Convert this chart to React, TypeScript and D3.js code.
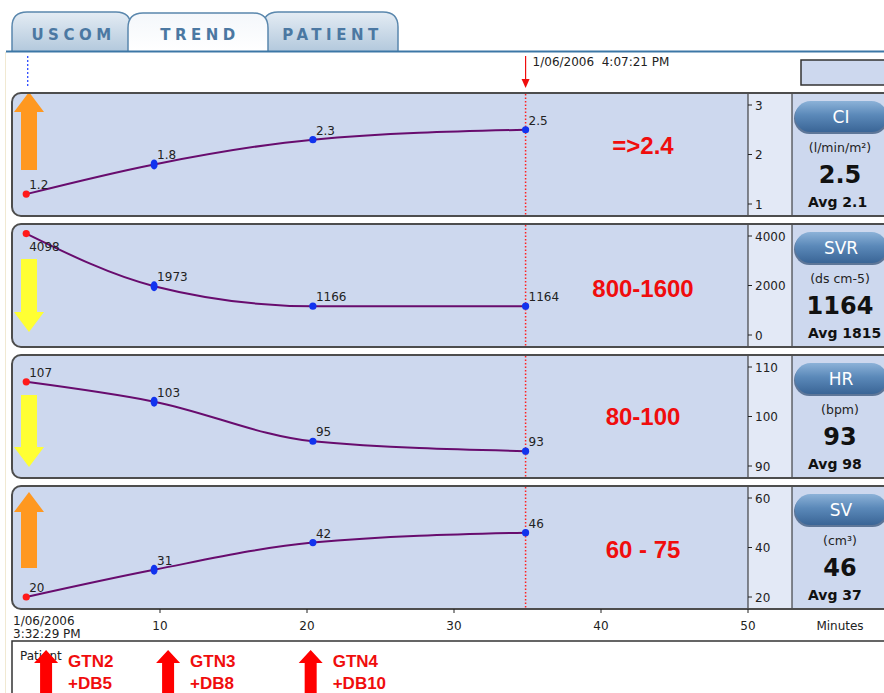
import React from "react";
import * as d3 from "d3";

// minutes after 3:32:29 PM for every measurement
const sampleMinutes = [0.9, 9.6, 20.4, 34.87];

const metricNames = ["CI", "SVR", "HR", "SV"];
const metricUnits = ["(l/min/m²)", "(ds cm-5)", "(bpm)", "(cm³)"];
const ciValues = [1.2, 1.8, 2.3, 2.5];
const svrValues = [4098, 1973, 1166, 1164];
const hrValues = [107, 103, 95, 93];
const svValues = [20, 31, 42, 46];
const metricAverages = ["2.1", "1815", "98", "37"];
const targetRanges = ["=>2.4", "800-1600", "80-100", "60 - 75"];
const trendDirections = ["up", "down", "down", "up"];
const yDomains = [[1, 3], [0, 4000], [90, 110], [20, 60]];
const yTickValues = [[1, 2, 3], [0, 2000, 4000], [90, 100, 110], [20, 40, 60]];

const xTickValues = [10, 20, 30, 40, 50];
const cursorMinute = 34.87;
const startLabel = ["1/06/2006", "3:32:29 PM"];
const cursorLabel = "1/06/2006  4:07:21 PM";

const eventMinutes = [2.25, 10.55, 20.25];
const eventDrugs = ["GTN2", "GTN3", "GTN4"];
const eventBoluses = ["+DB5", "+DB8", "+DB10"];

const tabLabels = ["USCOM", "TREND", "PATIENT"];

// layout
const W = 884;
const H = 693;
const PANEL_TOP = 93;
const PANEL_STEP = 131;
const PANEL_H = 123;
const AXIS_X = 748;
const INFO_X = 792;
const targetBaselines = [61, 73, 70, 72];
const arrowExtents = [[-1, 77], [35, 108], [40, 112], [6, 82]];
const tabSpans = [[12, 131], [128, 268], [263, 398]];

const FONT = "'DejaVu Sans', Verdana, sans-serif";
const ARIAL = "'Liberation Sans', Arial, sans-serif";
const PANEL_BG = "#cdd8ee";
const RED = "#f00d0d";

const seriesList = [ciValues, svrValues, hrValues, svValues];

const xScale = d3.scaleLinear().domain([0, 50]).range([13, AXIS_X]);

const tabPath = (x0: number, x1: number, top: number, bottom: number, r: number) =>
  `M${x0},${bottom} L${x0},${top + r} Q${x0},${top} ${x0 + r},${top} L${x1 - r},${top} Q${x1},${top} ${x1},${top + r} L${x1},${bottom}`;

const Panel: React.FC<{ i: number }> = ({ i }) => {
  const top = PANEL_TOP + i * PANEL_STEP;
  const values = seriesList[i];
  const y = d3
    .scaleLinear()
    .domain(yDomains[i])
    .range([top + 111, top + 12]);
  const pts = values.map((v, k) => [xScale(sampleMinutes[k]), y(v)] as [number, number]);
  const line = d3.line().curve(d3.curveMonotoneX)(pts) || "";
  const cx = xScale(cursorMinute);

  // trend arrow
  const [a0, a1] = arrowExtents[i];
  const ax = 29;
  const up = trendDirections[i] === "up";
  const tip = up ? top + a0 : top + a1;
  const tail = up ? top + a1 : top + a0;
  const base = up ? tip + 20 : tip - 20;
  const arrow = `M${ax - 8},${tail} L${ax + 8},${tail} L${ax + 8},${base} L${ax + 15},${base} L${ax},${tip} L${ax - 15},${base} L${ax - 8},${base} Z`;

  return (
    <g>
      <rect x={12} y={top} width={900} height={PANEL_H} rx={9} fill={PANEL_BG} />
      <rect x={AXIS_X} y={top + 1} width={INFO_X - AXIS_X} height={PANEL_H - 2} fill="#e3e9f6" />
      <path d={arrow} fill={up ? "#ff9820" : "#ffff33"} />
      <line x1={cx} x2={cx} y1={top + 1} y2={top + PANEL_H - 1} stroke="#ff2020" strokeWidth={1.5} strokeDasharray="1.5,2" />
      <line x1={AXIS_X} x2={AXIS_X} y1={top} y2={top + PANEL_H} stroke="#222" strokeWidth={1} />
      <line x1={INFO_X} x2={INFO_X} y1={top} y2={top + PANEL_H} stroke="#222" strokeWidth={1} />
      {yTickValues[i].map((t) => (
        <g key={t}>
          <line x1={AXIS_X} x2={AXIS_X + 4} y1={y(t)} y2={y(t)} stroke="#222" />
          <text x={AXIS_X + 7} y={y(t) + 4.5} fontSize={12} fontFamily={FONT} fill="#222">
            {t}
          </text>
        </g>
      ))}
      <path d={line} fill="none" stroke="#680c6e" strokeWidth={2} />
      {pts.map(([px, py], k) =>
        k === 1 ? (
          <ellipse key={k} cx={px} cy={py} rx={3.5} ry={5} fill="#1133ee" />
        ) : (
          <circle key={k} cx={px} cy={py} r={3.6} fill={k === 0 ? "#ff1a1a" : "#1133ee"} />
        )
      )}
      {pts.map(([px, py], k) => (
        <text
          key={"l" + k}
          x={px + 3}
          y={py - top < 20 ? py + 17 : py - 5}
          fontSize={12}
          fontFamily={FONT}
          fill="#222"
        >
          {values[k]}
        </text>
      ))}
      <text
        x={643}
        y={top + targetBaselines[i]}
        textAnchor="middle"
        fontSize={24}
        fontWeight="bold"
        fontFamily={ARIAL}
        fill={RED}
      >
        {targetRanges[i]}
      </text>
      {/* info column */}
      <rect x={794} y={top + 10} width={94} height={31} rx={15.5} fill="#2e4d74" opacity={0.7} />
      <rect x={795} y={top + 8} width={92} height={31} rx={15.5} fill="url(#pillGrad)" />
      <text x={841} y={top + 30} textAnchor="middle" fontSize={17} fontFamily={FONT} fill="#fff">
        {metricNames[i]}
      </text>
      <text x={840} y={top + 59} textAnchor="middle" fontSize={12.5} fontFamily={FONT} fill="#222">
        {metricUnits[i]}
      </text>
      <text x={840} y={top + 90} textAnchor="middle" fontSize={24} fontWeight="bold" fontFamily={FONT} fill="#111">
        {values[values.length - 1]}
      </text>
      <text x={808} y={top + 114} fontSize={14} fontWeight="bold" fontFamily={FONT} fill="#111">
        {"Avg " + metricAverages[i]}
      </text>
      <rect x={12} y={top} width={900} height={PANEL_H} rx={9} fill="none" stroke="#4d4d4d" strokeWidth={2} />
    </g>
  );
};

const App: React.FC = () => {
  const cx = xScale(cursorMinute);
  const startX = xScale(sampleMinutes[0]);
  const axisY = PANEL_TOP + 3 * PANEL_STEP + PANEL_H;
  const tabOrder = [0, 2, 1];

  return (
    <svg
      width={W}
      height={H}
      style={{ position: "absolute", left: 0, top: 0, display: "block", background: "#fff" }}
    >
      <defs>
        <linearGradient id="pillGrad" x1="0" y1="0" x2="0" y2="1">
          <stop offset="0" stopColor="#8cb2d8" />
          <stop offset="0.45" stopColor="#5b89b9" />
          <stop offset="1" stopColor="#3a6596" />
        </linearGradient>
        <linearGradient id="tabGrad" x1="0" y1="0" x2="0" y2="1">
          <stop offset="0" stopColor="#e4ecf4" />
          <stop offset="1" stopColor="#b2c8dc" />
        </linearGradient>
        <linearGradient id="tabActive" x1="0" y1="0" x2="0" y2="1">
          <stop offset="0" stopColor="#f4f7fb" />
          <stop offset="1" stopColor="#ffffff" />
        </linearGradient>
      </defs>
      <line x1={5.5} x2={5.5} y1={52} y2={H} stroke="#f1e9d2" strokeWidth={1} />

      {/* tabs */}
      {tabOrder.map((k) => {
        const [x0, x1] = tabSpans[k];
        const active = k === 1;
        return (
          <g key={k}>
            <path
              d={tabPath(x0, x1, active ? 13 : 12, 52, 15)}
              fill={active ? "url(#tabActive)" : "url(#tabGrad)"}
              stroke="#5a87ad"
              strokeWidth={1.5}
            />
            <text
              x={(x0 + x1) / 2 + 2}
              y={40}
              textAnchor="middle"
              fontSize={15}
              fontWeight="bold"
              letterSpacing={4.5}
              fontFamily={FONT}
              fill="#4b78a2"
            >
              {tabLabels[k]}
            </text>
          </g>
        );
      })}
      <line x1={6} x2={W} y1={51.5} y2={51.5} stroke="#3c77a6" strokeWidth={2} />

      {/* cursors */}
      <line x1={startX + 1.5} x2={startX + 1.5} y1={56} y2={88} stroke="#1a3cff" strokeWidth={1.2} strokeDasharray="2,2" />
      <line x1={cx} x2={cx} y1={56} y2={80} stroke={RED} strokeWidth={1.2} />
      <path d={`M${cx - 4},${79} L${cx + 4},${79} L${cx},${88} Z`} fill={RED} />
      <text x={cx + 7} y={66} fontSize={12} fontFamily={FONT} fill="#222" style={{ whiteSpace: "pre" }}>
        {cursorLabel}
      </text>
      <rect x={801} y={60} width={100} height={25} fill={PANEL_BG} stroke="#333" strokeWidth={1.5} />

      {metricNames.map((_, i) => (
        <Panel key={i} i={i} />
      ))}

      {/* time axis */}
      {xTickValues.map((t) => (
        <g key={t}>
          <line x1={xScale(t)} x2={xScale(t)} y1={axisY} y2={axisY + 4} stroke="#222" />
          <text x={xScale(t)} y={630} textAnchor="middle" fontSize={12} fontFamily={FONT} fill="#222">
            {t}
          </text>
        </g>
      ))}
      <text x={13} y={625} fontSize={12} fontFamily={FONT} fill="#222">
        {startLabel[0]}
      </text>
      <text x={13} y={638} fontSize={12} fontFamily={FONT} fill="#222">
        {startLabel[1]}
      </text>
      <text x={840} y={630} textAnchor="middle" fontSize={12} fontFamily={FONT} fill="#222">
        Minutes
      </text>

      {/* patient notes */}
      <rect x={12} y={641} width={900} height={70} fill="#fff" stroke="#333" strokeWidth={1.5} />
      <text x={20} y={660} fontSize={12} fontFamily={FONT} fill="#222">
        Patient
      </text>
      {eventMinutes.map((m, k) => {
        const ex = xScale(m);
        return (
          <g key={k}>
            <path
              d={`M${ex - 6},${H + 5} L${ex - 6},663 L${ex - 12},663 L${ex},650 L${ex + 12},663 L${ex + 6},663 L${ex + 6},${H + 5} Z`}
              fill="#ff0000"
            />
            <text x={ex + 22} y={667} fontSize={17} fontWeight="bold" fontFamily={ARIAL} fill={RED}>
              {eventDrugs[k]}
            </text>
            <text x={ex + 22} y={689} fontSize={17} fontWeight="bold" fontFamily={ARIAL} fill={RED}>
              {eventBoluses[k]}
            </text>
          </g>
        );
      })}
    </svg>
  );
};

export default App;
